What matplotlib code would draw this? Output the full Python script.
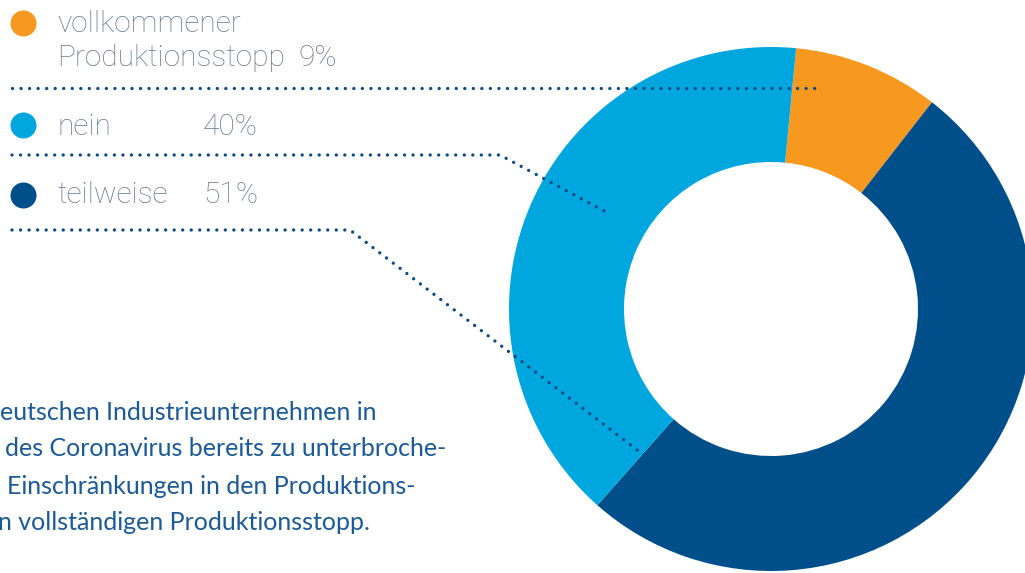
import matplotlib
matplotlib.use("Agg")
import matplotlib.pyplot as plt

# shares from the chart (clockwise from top)
labels = ["vollkommener Produktionsstopp", "teilweise", "nein"]
shares = [9, 51, 40]
colors = ["#f7981f", "#004f8b", "#00a7df"]

legend_names = ["vollkommener\nProduktionsstopp", "nein", "teilweise"]
legend_pcts = ["9%", "40%", "51%"]
legend_colors = ["#f7981f", "#00a7df", "#004f8b"]

body_lines = [
    "eutschen Industrieunternehmen in",
    "des Coronavirus bereits zu unterbroche-",
    "Einschränkungen in den Produktions-",
    "n vollständigen Produktionsstopp.",
]

W, H = 1025, 573
fig = plt.figure(figsize=(W / 100, H / 100), dpi=100)
ax = fig.add_axes([0, 0, 1, 1])

def Y(y):
    # pixel row -> data y
    return H - y

ax.pie(shares, colors=colors, startangle=84.5, counterclock=False,
       center=(771, Y(309)), radius=262,
       wedgeprops=dict(width=115, linewidth=0))

ax.set_xlim(0, W)
ax.set_ylim(0, H)
ax.set_aspect("equal")
ax.axis("off")

# dotted leader lines
dot = dict(color="#0b4a87", lw=2.4, linestyle=(0, (0.01, 2.55)),
           dash_capstyle="round", zorder=5)
ax.plot([12, 817], [Y(88), Y(88)], **dot)
ax.plot([12, 500, 608], [Y(155), Y(155), Y(213)], **dot)
ax.plot([12, 350, 645], [Y(230), Y(230), Y(456)], **dot)

# legend
txt = "#687c8d"
font = dict(family="Roboto", weight="light", fontsize=21.5, color=txt,
            va="center", ha="left")
mark_y = [23, 125, 195]
name_y = [[24, 58], [127], [195]]
pct_pos = [(298, 58), (203, 127), (203, 195)]
for i in range(3):
    ax.scatter([23], [Y(mark_y[i])], s=(13 * 2 * 0.72) ** 2, color=legend_colors[i],
               linewidths=0, zorder=6)
    for line, y in zip(legend_names[i].split("\n"), name_y[i]):
        ax.text(57, Y(y), line, **font)
    ax.text(pct_pos[i][0], Y(pct_pos[i][1]), legend_pcts[i], **font)

# body text
body_x = [0, 5, 7, -2]
body_y = [412, 449, 486, 523]
for s, x, y in zip(body_lines, body_x, body_y):
    ax.text(x, Y(y), s, fontsize=18, color="#1a5a98", family="Lato",
            va="center", ha="left")

fig.savefig("out.png", dpi=100)
